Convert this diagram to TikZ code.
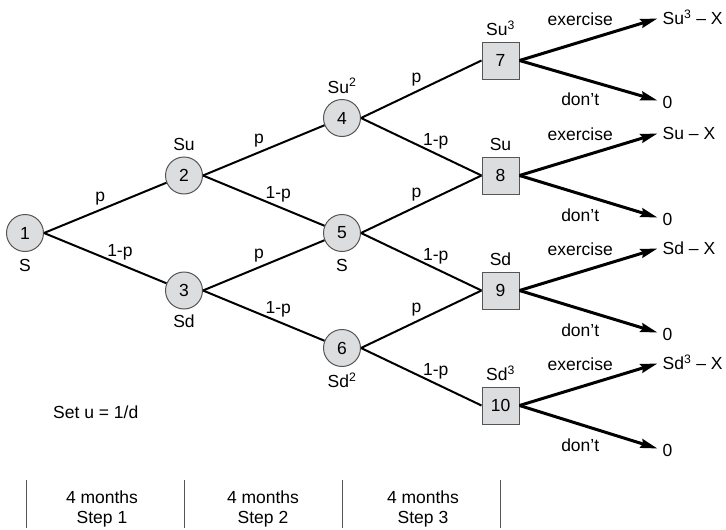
\documentclass[tikz,border=0pt]{standalone}
\usepackage{fontspec}
\setmainfont{Liberation Sans}
\usetikzlibrary{arrows.meta,positioning,calc}
\definecolor{nodefill}{HTML}{DCDDDF}
\definecolor{nodeline}{HTML}{555555}

\tikzset{
  state/.style={circle, draw=nodeline, fill=nodefill, line width=1pt, minimum size=37pt, inner sep=0pt},
  final/.style={rectangle, draw=nodeline, fill=nodefill, line width=1pt, minimum size=37pt, inner sep=0pt},
  edge/.style={line width=2pt},
  choice/.style={line width=3pt, -{Stealth[length=17pt, width=9pt, inset=2pt]}},
  up/.style={pos=.46, above=2pt},
  down/.style={pos=.62, above=1.5pt},
  yes/.style={pos=.44, above=13pt},
  no/.style={pos=.44, below=11pt},
  tick/.style={line width=1pt, draw=nodeline},
}

\begin{document}
\begin{tikzpicture}[x=1pt, y=-1pt, every node/.style={font=\fontsize{17.5}{20}\selectfont, inner sep=2pt}, label distance=3.5pt]
    \useasboundingbox (0,0) rectangle (726,530);

    % Lattice nodes
    \node[state, label={[label distance=5pt]below:S}] (n1) at (25,233) {1};
    \node[state, label=above:Su] (n2) at (184,175.5) {2};
    \node[state, label=below:Sd] (n3) at (184,290.5) {3};
    \node[state, label=above:Su\textsuperscript{2}] (n4) at (342,118) {4};
    \node[state, label={[label distance=5pt]below:S}] (n5) at (342,233) {5};
    \node[state, label=below:Sd\textsuperscript{2}] (n6) at (342,348) {6};
    \node[final, label=above:Su\textsuperscript{3}] (n7) at (500.5,60.5) {7};
    \node[final, label=above:Su] (n8) at (500.5,175.5) {8};
    \node[final, label=above:Sd] (n9) at (500.5,290.5) {9};
    \node[final, label=above:Sd\textsuperscript{3}] (n10) at (500.5,405.5) {10};

    % Up and down moves
    \draw[edge] (n1.east) -- node[up] {p} (n2);
    \draw[edge] (n1.east) -- node[down] {1-p} (n3);
    \draw[edge] (n2.east) -- node[up] {p} (n4);
    \draw[edge] (n2.east) -- node[down] {1-p} (n5);
    \draw[edge] (n3.east) -- node[up] {p} (n5);
    \draw[edge] (n3.east) -- node[down] {1-p} (n6);
    \draw[edge] (n4.east) -- node[up] {p} (n7.west);
    \draw[edge] (n4.east) -- node[down] {1-p} (n8.west);
    \draw[edge] (n5.east) -- node[up] {p} (n8.west);
    \draw[edge] (n5.east) -- node[down] {1-p} (n9.west);
    \draw[edge] (n6.east) -- node[up] {p} (n9.west);
    \draw[edge] (n6.east) -- node[down] {1-p} (n10.west);

    % Exercise or not at expiry
    \draw[choice] (n7.east) -- node[yes] {exercise} ++(138,-42) coordinate (e7);
    \draw[choice] (n7.east) -- node[no] {don't} ++(138,40) coordinate (z7);
    \draw[choice] (n8.east) -- node[yes] {exercise} ++(138,-42) coordinate (e8);
    \draw[choice] (n8.east) -- node[no] {don't} ++(138,42) coordinate (z8);
    \draw[choice] (n9.east) -- node[yes] {exercise} ++(138,-42) coordinate (e9);
    \draw[choice] (n9.east) -- node[no] {don't} ++(138,42) coordinate (z9);
    \draw[choice] (n10.east) -- node[yes] {exercise} ++(138,-42) coordinate (e10);
    \draw[choice] (n10.east) -- node[no] {don't} ++(138,43) coordinate (z10);

    % Payoffs
    \node[anchor=base west] (v7) at ($(e7)+(3,6)$) {Su\textsuperscript{3} – X};
    \node[anchor=base west] (w7) at ($(z7)+(3,8)$) {0};
    \node[anchor=base west] (v8) at ($(e8)+(3,6)$) {Su – X};
    \node[anchor=base west] (w8) at ($(z8)+(3,8)$) {0};
    \node[anchor=base west] (v9) at ($(e9)+(3,6)$) {Sd – X};
    \node[anchor=base west] (w9) at ($(z9)+(3,8)$) {0};
    \node[anchor=base west] (v10) at ($(e10)+(3,6)$) {Sd\textsuperscript{3} – X};
    \node[anchor=base west] (w10) at ($(z10)+(3,8)$) {0};

    \node[anchor=base west] (note) at (51,418) {Set u = 1/d};

    % Time steps
    \draw[tick] (26,480) -- (26,528);
    \draw[tick] (184,480) -- (184,528);
    \draw[tick] (342,480) -- (342,528);
    \draw[tick] (500,480) -- (500,528);
    \node[anchor=north, align=center] (s1) at (102,489) {4 months\\Step 1};
    \node[anchor=north, align=center] (s2) at (263,489) {4 months\\Step 2};
    \node[anchor=north, align=center] (s3) at (423,489) {4 months\\Step 3};
\end{tikzpicture}
\end{document}
